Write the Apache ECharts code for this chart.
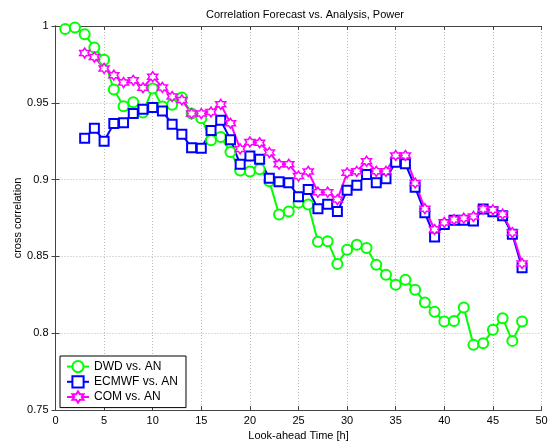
<!DOCTYPE html>
<html>
<head>
<meta charset="utf-8">
<script src="https://cdn.jsdelivr.net/npm/echarts@6/dist/echarts.min.js"></script>
<style>
html,body{margin:0;padding:0;background:#fff;}
#c{width:554px;height:448px;}
</style>
</head>
<body>
<div id="c"></div>
<script>
// ---- data ----
var hoursDWD = [1,2,3,4,5,6,7,8,9,10,11,12,13,14,15,16,17,18,19,20,21,22,23,24,25,26,27,28,29,30,31,32,33,34,35,36,37,38,39,40,41,42,43,44,45,46,47,48];
var dwd = [0.998,0.999,0.9946,0.986,0.978,0.9587,0.9478,0.9504,0.9437,0.9593,0.9476,0.9487,0.9535,0.943,0.940,0.9256,0.9277,0.918,0.906,0.9052,0.9067,0.899,0.8773,0.8792,0.8849,0.8838,0.8595,0.8599,0.8451,0.8544,0.8576,0.8554,0.8446,0.838,0.8315,0.8348,0.8283,0.82,0.8139,0.8076,0.808,0.8168,0.7924,0.7934,0.8022,0.8098,0.795,0.8076];
var hoursECM = [3,4,5,6,7,8,9,10,11,12,13,14,15,16,17,18,19,20,21,22,23,24,25,26,27,28,29,30,31,32,33,34,35,36,37,38,39,40,41,42,43,44,45,46,47,48];
var ecmwf = [0.927,0.9334,0.925,0.9365,0.937,0.943,0.9458,0.947,0.9447,0.936,0.9295,0.9208,0.9204,0.932,0.9386,0.926,0.910,0.9153,0.9132,0.9008,0.8986,0.898,0.8888,0.8936,0.881,0.884,0.8792,0.893,0.8964,0.9034,0.898,0.9005,0.9113,0.9103,0.895,0.8784,0.8627,0.8708,0.8735,0.8736,0.8731,0.8808,0.879,0.8764,0.8644,0.8426];
var hoursCOM = [3,4,5,6,7,8,9,10,11,12,13,14,15,16,17,18,19,20,21,22,23,24,25,26,27,28,29,30,31,32,33,34,35,36,37,38,39,40,41,42,43,44,45,46,47,48];
var com = [0.9824,0.9798,0.9724,0.968,0.9632,0.9646,0.9598,0.967,0.960,0.9541,0.9519,0.943,0.943,0.944,0.949,0.9367,0.920,0.9245,0.924,0.9176,0.910,0.910,0.9023,0.9053,0.8918,0.8918,0.887,0.9044,0.9054,0.912,0.9054,0.9054,0.9157,0.9157,0.8978,0.8811,0.8675,0.8721,0.874,0.8749,0.876,0.8808,0.8803,0.8775,0.8655,0.8454];
var seriesNames = ['DWD vs. AN','ECMWF vs. AN','COM vs. AN'];
var xTicks = {min:0, max:50, interval:5};
var yTicks = {min:0.75, max:1, interval:0.05};

function pairs(xs, ys){ return xs.map(function(x,i){ return [x, ys[i]]; }); }

var FONT = 'Liberation Sans';
var hexagram = 'path://M0,-10L2.887,-5L8.66,-5L5.774,0L8.66,5L2.887,5L0,10L-2.887,5L-8.66,5L-5.774,0L-8.66,-5L-2.887,-5Z';

var chart = echarts.init(document.getElementById('c'), null, {renderer:'canvas'});
var axisLineStyle = {color:'#444', width:1};
var option = {
  backgroundColor:'#fff',
  animation:false,
  title:{
    text:'Correlation Forecast vs. Analysis, Power',
    left:300, top:4, textAlign:'center',
    textStyle:{fontFamily:FONT, fontSize:11, fontWeight:'normal', color:'#000'}
  },
  grid:{left:55.5, right:12.5, top:26, bottom:38, containLabel:false, outerBoundsMode:'none'},
  legend:{
    orient:'vertical', left:60, top:356,
    backgroundColor:'#fff', borderColor:'#000', borderWidth:1,
    padding:[4,8,4,6], itemGap:2, itemWidth:22, itemHeight:14,
    textStyle:{fontFamily:FONT, fontSize:12, color:'#000'},
    data:seriesNames
  },
  xAxis:[{
    type:'value', min:xTicks.min, max:xTicks.max, interval:xTicks.interval,
    name:'Look-ahead Time [h]', nameLocation:'middle', nameGap:20, nameMoveOverlap:false,
    nameTextStyle:{fontFamily:FONT, fontSize:11, color:'#000'},
    axisLine:{show:true, lineStyle:axisLineStyle},
    axisTick:{show:true, inside:true, length:4, lineStyle:axisLineStyle},
    axisLabel:{fontFamily:FONT, fontSize:11, color:'#000', margin:5},
    splitLine:{show:true, lineStyle:{color:'#b8b8b8', type:[1,2], width:1}}
  },{
    type:'value', position:'top', min:xTicks.min, max:xTicks.max, interval:xTicks.interval,
    axisLine:{show:true, lineStyle:axisLineStyle},
    axisTick:{show:true, inside:true, length:4, lineStyle:axisLineStyle},
    axisLabel:{show:false}, splitLine:{show:false}
  }],
  yAxis:[{
    type:'value', min:yTicks.min, max:yTicks.max, interval:yTicks.interval,
    name:'cross correlation', nameLocation:'middle', nameGap:32, nameRotate:90, nameMoveOverlap:false,
    nameTextStyle:{fontFamily:FONT, fontSize:11, color:'#000'},
    axisLine:{show:true, lineStyle:axisLineStyle},
    axisTick:{show:true, inside:true, length:4, lineStyle:axisLineStyle},
    axisLabel:{fontFamily:FONT, fontSize:11, color:'#000', margin:7,
      formatter:function(v){ return String(parseFloat(v.toFixed(2))); }},
    splitLine:{show:true, lineStyle:{color:'#b8b8b8', type:[1,2], width:1}}
  },{
    type:'value', position:'right', min:yTicks.min, max:yTicks.max, interval:yTicks.interval,
    axisLine:{show:true, lineStyle:axisLineStyle},
    axisTick:{show:true, inside:true, length:4, lineStyle:axisLineStyle},
    axisLabel:{show:false}, splitLine:{show:false}
  }],
  series:[{
    name:seriesNames[0], type:'line', data:pairs(hoursDWD, dwd),
    symbol:'circle', symbolSize:10, showAllSymbol:true,
    lineStyle:{color:'#00ff00', width:2},
    itemStyle:{color:'#fff', borderColor:'#00ff00', borderWidth:2},
    color:'#00ff00'
  },{
    name:seriesNames[1], type:'line', data:pairs(hoursECM, ecmwf),
    symbol:'rect', symbolSize:9, showAllSymbol:true,
    lineStyle:{color:'#0000ff', width:2},
    itemStyle:{color:'#fff', borderColor:'#0000ff', borderWidth:2},
    color:'#0000ff'
  },{
    name:seriesNames[2], type:'line', data:pairs(hoursCOM, com),
    symbol:hexagram, symbolSize:10, showAllSymbol:true,
    lineStyle:{color:'#ff00ff', width:2},
    itemStyle:{color:'#fff', borderColor:'#ff00ff', borderWidth:1.5},
    color:'#ff00ff'
  }]
};
chart.setOption(option);
</script>
</body>
</html>
